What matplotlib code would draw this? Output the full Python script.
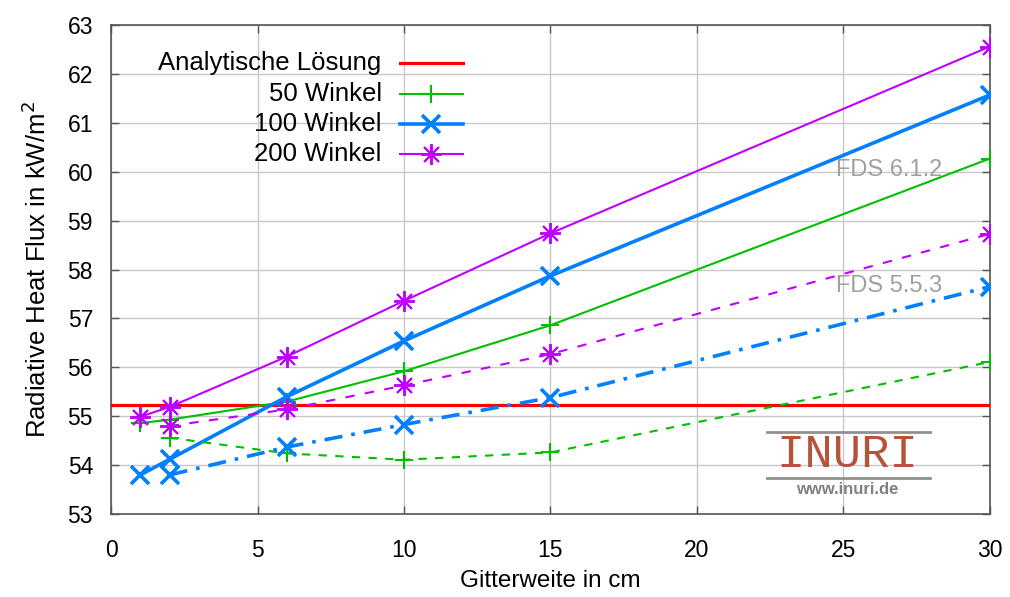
import matplotlib
matplotlib.use("Agg")
import matplotlib.pyplot as plt
from matplotlib.lines import Line2D

plt.rcParams['font.family'] = ['Liberation Sans', 'DejaVu Sans']

# Data
x_new = [1, 2, 6, 10, 15, 30]          # FDS 6.1.2 (solid)
x_old = [2, 6, 10, 15, 30]             # FDS 5.5.3 (dashed)
analytic = 55.22

w50_new = [54.86, 54.93, 55.30, 55.92, 56.86, 60.27]
w100_new = [53.80, 54.12, 55.40, 56.54, 57.87, 61.57]
w200_new = [54.99, 55.19, 56.22, 57.36, 58.74, 62.56]

w50_old = [54.56, 54.24, 54.11, 54.26, 56.11]
w100_old = [53.80, 54.37, 54.83, 55.38, 57.65]
w200_old = [54.80, 55.14, 55.63, 56.27, 58.73]

labels = ['Analytische Lösung', '50 Winkel', '100 Winkel', '200 Winkel']
xticks = [0, 5, 10, 15, 20, 25, 30]
yticks = [53, 54, 55, 56, 57, 58, 59, 60, 61, 62, 63]

c_red = '#ff0000'
c_green = '#00c000'
c_blue = '#0080ff'
c_purple = '#c000ff'
asterisk = (8, 2, 0)

styles = [
    dict(color=c_red, lw=2.3),
    dict(color=c_green, lw=1.5, marker='+', ms=13, mew=1.5),
    dict(color=c_blue, lw=2.6, marker='x', ms=13, mew=2.6),
    dict(color=c_purple, lw=1.5, marker=asterisk, ms=15, mew=1.4),
]

fig = plt.figure(figsize=(10.10, 5.97), dpi=100)
ax = fig.add_axes([0.110, 0.139, 0.870, 0.819])

ax.axhline(analytic, zorder=3, **styles[0])
ax.plot(x_new, w50_new, zorder=4, **styles[1])
ax.plot(x_new, w100_new, zorder=4, **styles[2])
ax.plot(x_new, w200_new, zorder=4, **styles[3])

ax.plot(x_old, w50_old, dashes=(4, 4), zorder=4, **styles[1])
ax.plot(x_old, w100_old, dashes=(5, 2.5, 1, 2.5), zorder=4, **styles[2])
ax.plot(x_old, w200_old, dashes=(4.5, 5), zorder=4, **styles[3])

ax.set_xlim(0, 30)
ax.set_ylim(53, 63)
ax.set_xticks(xticks)
ax.set_yticks(yticks)
ax.tick_params(direction='in', length=6, width=1, color='#555555',
               labelsize=16.5, top=True, right=True)
ax.tick_params(axis='x', pad=18)
ax.tick_params(axis='y', pad=13)
ax.grid(True, color='#c8c8c8', lw=1)
ax.set_axisbelow(True)
for s in ax.spines.values():
    s.set_color('#555555')
    s.set_linewidth(1.2)

ax.set_xlabel('Gitterweite in cm', fontsize=17.5, labelpad=6)
ax.set_ylabel('Radiative Heat Flux in kW/m$^2$', fontsize=18.5, labelpad=12)

ax.text(0.825, 0.703, 'FDS 6.1.2', transform=ax.transAxes, fontsize=17,
        color='#a0a0a0', va='center', ha='left', zorder=2)
ax.text(0.825, 0.466, 'FDS 5.5.3', transform=ax.transAxes, fontsize=17,
        color='#a0a0a0', va='center', ha='left', zorder=2)

# legend (gnuplot style: right-aligned text, sample to the right)
row_y = [0.922, 0.859, 0.798, 0.736]
for lab, st, yy in zip(labels, styles, row_y):
    ax.text(0.308, yy, lab, transform=ax.transAxes, fontsize=18.5,
            ha='right', va='center', zorder=6)
    line_st = {k: v for k, v in st.items() if k not in ('marker', 'ms', 'mew')}
    ax.add_line(Line2D([0.329, 0.400], [yy, yy], transform=ax.transAxes,
                       zorder=6, **line_st))
    if 'marker' in st:
        ax.add_line(Line2D([0.3645], [yy], transform=ax.transAxes, zorder=6,
                           color=st['color'], marker=st['marker'], ms=st['ms'],
                           mew=st['mew'], ls='none'))

# INURI logo
logo_x0, logo_x1 = 0.746, 0.932
ax.plot([logo_x0, logo_x1], [0.168, 0.168], transform=ax.transAxes,
        color='#909090', lw=2, zorder=5, clip_on=False)
ax.plot([logo_x0, logo_x1], [0.074, 0.074], transform=ax.transAxes,
        color='#909090', lw=2, zorder=5, clip_on=False)
ax.text(0.838, 0.121, 'INURI', transform=ax.transAxes, fontsize=34,
        family=['Liberation Mono', 'DejaVu Sans Mono'], color='#b5533c',
        ha='center', va='center', zorder=6)
ax.text(0.838, 0.051, 'www.inuri.de', transform=ax.transAxes, fontsize=12,
        color='#808080', weight='bold', ha='center', va='center', zorder=6)

fig.savefig('out.png', dpi=100)
